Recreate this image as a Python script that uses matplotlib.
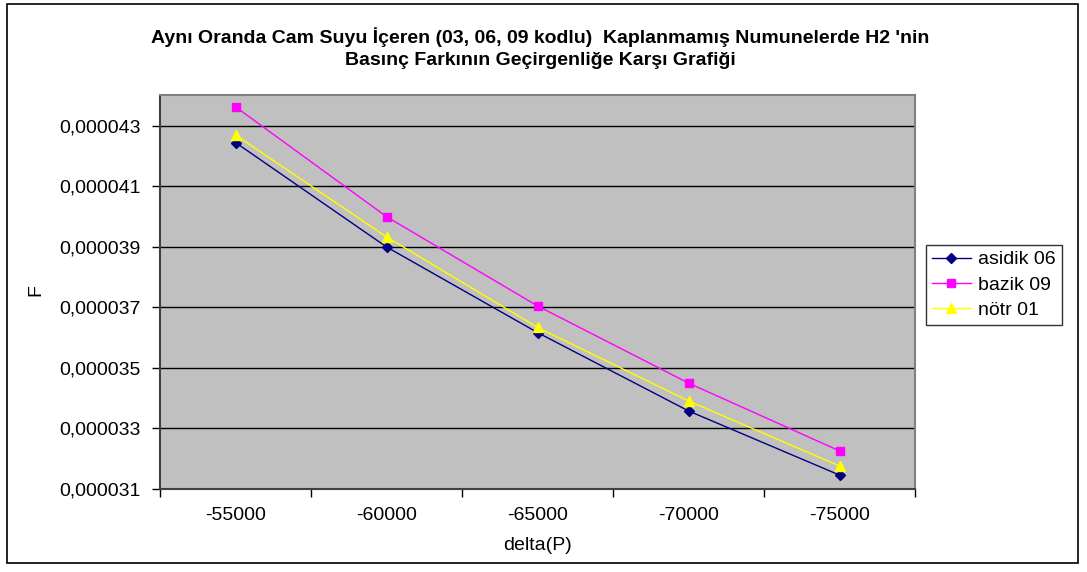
import numpy as np
import matplotlib
matplotlib.use("Agg")
import matplotlib.pyplot as plt
from matplotlib.patches import Rectangle
from matplotlib.ticker import FixedLocator, FuncFormatter

# ---- data ----
categories = ['-55000', '-60000', '-65000', '-70000', '-75000']
asidik_06 = [0.00004245, 0.00003900, 0.00003617, 0.00003358, 0.00003146]
bazik_09 = [0.00004363, 0.00004000, 0.00003705, 0.00003450, 0.00003226]
notr_01 = [0.00004270, 0.00003933, 0.00003634, 0.00003391, 0.00003176]
y_ticks = [0.000031, 0.000033, 0.000035, 0.000037, 0.000039, 0.000041, 0.000043]

plt.rcParams['font.family'] = ['Liberation Sans', 'DejaVu Sans']

fig = plt.figure(figsize=(10.87, 5.72), dpi=100)
fig.patch.set_facecolor('white')
fig.patches.append(Rectangle((7 / 1087, 9 / 572), 1071 / 1087, 559 / 572,
                             transform=fig.transFigure, fill=False,
                             edgecolor='black', lw=1.2))

ax = fig.add_axes([160 / 1087, (572 - 489) / 572, 755 / 1087, 394 / 572])
ax.set_facecolor('#C0C0C0')

x = np.arange(len(categories))
ax.plot(x, asidik_06, color='#000080', lw=1, marker='D', ms=5, label='asidik 06')
ax.plot(x, bazik_09, color='#FF00FF', lw=1, marker='s', ms=6, label='bazik 09')
ax.plot(x, notr_01, color='#FFFF00', lw=1, marker='^', ms=7, label='nötr 01')

ax.set_xlim(-0.5, len(categories) - 0.5)
ax.set_ylim(0.000031, 0.00004402)

ax.yaxis.set_major_locator(FixedLocator(y_ticks))
ax.yaxis.set_major_formatter(FuncFormatter(lambda v, p: f'{v:.6f}'.replace('.', ',')))
ax.set_xticks(x)
ax.set_xticklabels(categories)
ax.xaxis.set_minor_locator(FixedLocator(np.arange(-0.5, len(categories), 1.0)))
ax.tick_params(axis='x', which='major', length=0, labelsize=14, pad=13)
ax.tick_params(axis='x', which='minor', length=6, width=1, direction='out')
ax.tick_params(axis='y', length=6, width=1, labelsize=14, pad=8)

ax.grid(axis='y', color='black', lw=1)
ax.set_axisbelow(True)
for s in ['top', 'right']:
    ax.spines[s].set_color('#808080')
    ax.spines[s].set_linewidth(1.5)
for s in ['left', 'bottom']:
    ax.spines[s].set_color('#404040')
    ax.spines[s].set_linewidth(1.5)

ax.set_xlabel('delta(P)', fontsize=14, labelpad=9)
fig.text(36 / 1087, 1 - 290 / 572, 'F', rotation=90, fontsize=14,
         ha='center', va='center')

fig.text(540 / 1087, 1 - 48.5 / 572,
         "Aynı Oranda Cam Suyu İçeren (03, 06, 09 kodlu)  Kaplanmamış Numunelerde H2 'nin\nBasınç Farkının Geçirgenliğe Karşı Grafiği",
         ha='center', va='center', fontsize=14, fontweight='bold', linespacing=1.4)

leg = fig.legend(loc='upper left', bbox_to_anchor=(926 / 1087, 1 - 245 / 572),
                 fontsize=14, frameon=True, fancybox=False, edgecolor='black',
                 borderpad=0.3, handlelength=2.0, labelspacing=0.4,
                 handletextpad=0.4, borderaxespad=0)
leg.get_frame().set_linewidth(1)

fig.savefig('out.png', dpi=100)
